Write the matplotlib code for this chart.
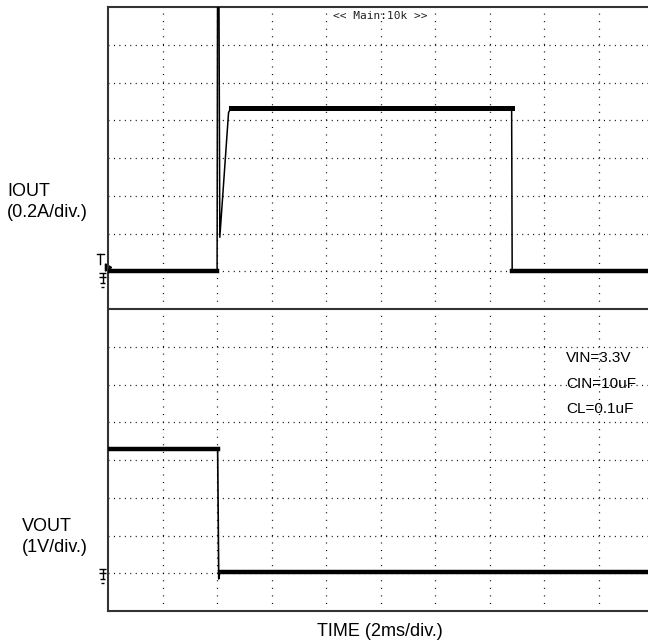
import numpy as np
import matplotlib.pyplot as plt

#dane (czas w ms, prad w A, napiecie w V)
t_iout = [0.0, 4.0, 4.02, 4.06, 4.1, 4.42, 4.5, 14.8, 14.82, 19.8]
i_out = [0.0, 0.0, 1.8, 1.8, 0.18, 0.84, 0.865, 0.865, 0.0, 0.0]

t_vout = [0.0, 4.02, 4.06, 4.1, 4.2, 19.8]
v_out = [3.3, 3.3, -0.15, 0.03, 0.03, 0.03]

i_div = 0.2   # A/div
v_div = 1.0   # V/div
t_div = 2.0   # ms/div
i_gnd = 9     # poziom zera IOUT (div)
v_gnd = 1     # poziom zera VOUT (div)

notes = ['VIN=3.3V', 'CIN=10uF', 'CL=0.1uF']

plt.rcParams['font.family'] = ['Liberation Sans', 'DejaVu Sans']
plt.rcParams['lines.scale_dashes'] = False

fig = plt.figure(figsize=(6.48, 6.44), dpi=100)
ax = fig.add_axes([108 / 648, 1 - 611 / 644, 1 - 108 / 648, 604 / 644])
ax.set_xlim(0, 9.9)
ax.set_ylim(0, 16)

#siatka
for k in range(1, 10):
    ax.axvline(k, color='black', lw=0.9, ls=(0, (0.72, 4.72)), zorder=1)
for k in range(1, 16):
    if k == 8:
        ax.axhline(k, color='#333333', lw=1.5, zorder=1)
    else:
        ax.axhline(k, color='black', lw=0.9, ls=(0, (0.72, 3.2)), zorder=1)

for s in ax.spines.values():
    s.set_color('#333333')
    s.set_linewidth(1.5)
ax.spines['right'].set_visible(False)
ax.set_xticks([])
ax.set_yticks([])

#przebiegi
x_i = np.array(t_iout) / t_div
y_i = i_gnd + np.array(i_out) / i_div
x_v = np.array(t_vout) / t_div
y_v = v_gnd + np.array(v_out) / v_div

ax.plot(x_i, y_i, color='black', lw=1.1, zorder=3)
ax.plot(x_i[:2], y_i[:2], color='black', lw=3.2, zorder=3)
ax.plot(x_i[6:8], y_i[6:8], color='black', lw=3.6, zorder=3)
ax.plot(x_i[8:], y_i[8:], color='black', lw=3.2, zorder=3)

ax.plot(x_v, y_v, color='black', lw=1.2, zorder=3)
ax.plot(x_v[:2], y_v[:2], color='black', lw=3.2, zorder=3)
ax.plot(x_v[3:], y_v[3:], color='black', lw=3.2, zorder=3)

#znaczniki masy
def gnd(y):
    kw = dict(color='black', lw=1, clip_on=False, solid_capstyle='butt')
    ax.plot([-0.16, -0.04], [y, y], **kw)
    ax.plot([-0.1, -0.1], [y + 0.1, y - 0.15], **kw)
    ax.plot([-0.16, -0.04], [y + 0.1, y + 0.1], **kw)
    ax.plot([-0.15, -0.05], [y - 0.15, y - 0.15], **kw)
    ax.plot([-0.13, -0.07], [y - 0.27, y - 0.27], **kw)

gnd(i_gnd - 0.15)
gnd(v_gnd)
ax.plot([-0.2, -0.08], [9.45, 9.45], color='black', lw=1, clip_on=False)
ax.plot([-0.14, -0.14], [9.45, 9.2], color='black', lw=1, clip_on=False)
ax.plot([-0.02], [9.1], marker=(3, 0, 30), ms=6, color='black', clip_on=False)

#opisy
ax.text(5, 15.75, '<< Main:10k >>', ha='center', va='center',
        fontsize=8, family='DejaVu Sans Mono', color='#222222')
for n, txt in enumerate(notes):
    ax.text(8.4, 6.7 - n * 0.68, txt, ha='left', va='center', fontsize=11)

fig.text(7 / 648, 1 - 202 / 644, 'IOUT\n(0.2A/div.)', ha='left', va='center',
         fontsize=13, linespacing=1.25)
fig.text(22 / 648, 1 - 537 / 644, 'VOUT\n(1V/div.)', ha='left', va='center',
         fontsize=13, linespacing=1.25)
fig.text(380 / 648, 1 - 631 / 644, 'TIME (2ms/div.)', ha='center', va='center',
         fontsize=13)

plt.savefig('out.png', dpi=100)
